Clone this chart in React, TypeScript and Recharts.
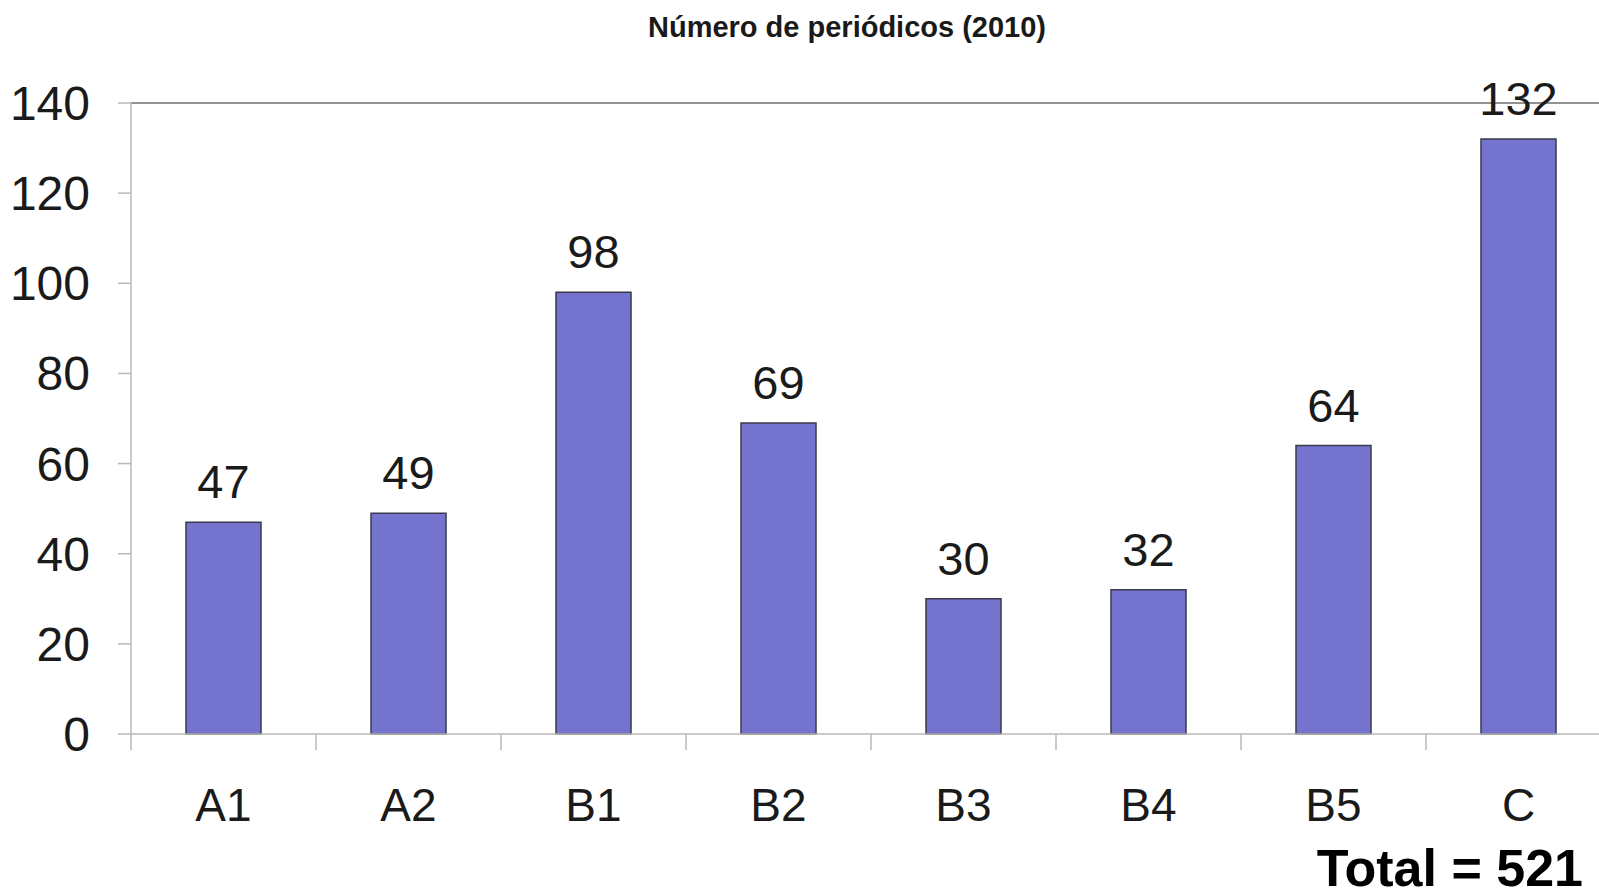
import { BarChart, Bar, XAxis, YAxis, LabelList, ReferenceLine } from 'recharts'

const categories = ['A1', 'A2', 'B1', 'B2', 'B3', 'B4', 'B5', 'C']
const periodicos = [47, 49, 98, 69, 30, 32, 64, 132]
const yTicks = [0, 20, 40, 60, 80, 100, 120, 140]
const title = 'Número de periódicos (2010)'
const totalLabel = 'Total = 521'

const data = categories.map((name, i) => ({ name, value: periodicos[i] }))

const FONT = '"Liberation Sans", Arial, sans-serif'
const AXIS_GRAY = '#b8b8b8'

const CategoryTick = (props: any) => {
  const { x, y, payload } = props
  const half = payload?.offset ?? 92.5
  const left = x - half
  return (
    <g>
      <line x1={left} y1={y - 53} x2={left} y2={y - 37} stroke={AXIS_GRAY} strokeWidth={1.5} />
      <text x={x} y={y + 34} textAnchor="middle" fill="#1a1a1a" fontSize={46} fontFamily={FONT}>
        {payload.value}
      </text>
    </g>
  )
}

export default function App() {
  return (
    <div style={{ position: 'fixed', left: 0, top: 0, width: 1599, height: 892, overflow: 'hidden', background: '#fff' }}>
      <BarChart
        width={1641}
        height={892}
        data={data}
        margin={{ top: 103, right: 30, left: 0, bottom: 98 }}
        barCategoryGap={0}
      >
        <XAxis
          dataKey="name"
          height={60}
          tickSize={16}
          tickMargin={37}
          tickLine={false}
          axisLine={{ stroke: AXIS_GRAY, strokeWidth: 1.5 }}
          tick={<CategoryTick />}
          interval={0}
        />
        <YAxis
          width={131}
          domain={[0, 140]}
          ticks={yTicks}
          interval={0}
          tickSize={13}
          tickMargin={28}
          axisLine={{ stroke: AXIS_GRAY, strokeWidth: 1.5 }}
          tickLine={{ stroke: AXIS_GRAY, strokeWidth: 1.5 }}
          tick={{ fill: '#1a1a1a', fontSize: 48, fontFamily: FONT }}
        />
        <ReferenceLine y={140} stroke="#6e6e6e" strokeWidth={1.5} />
        <Bar dataKey="value" fill="#7474cf" stroke="#3a3a4a" strokeWidth={1.5} barSize={75} isAnimationActive={false}>
          <LabelList dataKey="value" position="top" offset={24} fill="#1a1a1a" fontSize={47} fontFamily={FONT} />
        </Bar>
      </BarChart>
      <svg width={1599} height={892} style={{ position: 'absolute', left: 0, top: 0, pointerEvents: 'none' }}>
        <text x={847} y={37} textAnchor="middle" fontSize={29} fontWeight="bold" fill="#1a1a1a" fontFamily={FONT}>
          {title}
        </text>
        <text x={1583} y={886} textAnchor="end" fontSize={52} fontWeight="bold" fill="#000" fontFamily={FONT}>
          {totalLabel}
        </text>
      </svg>
    </div>
  )
}
